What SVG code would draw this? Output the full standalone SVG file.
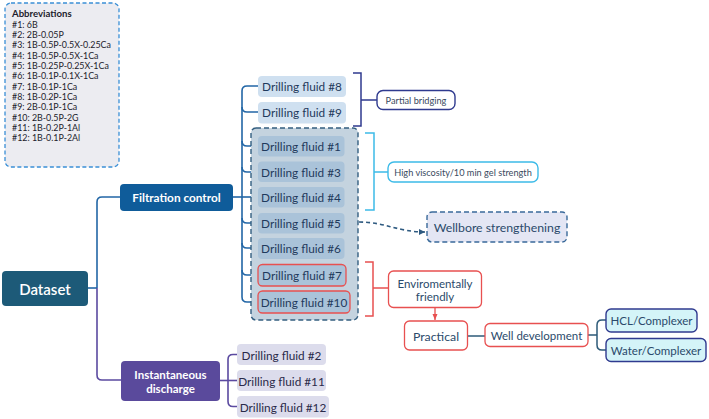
<svg xmlns="http://www.w3.org/2000/svg" width="709" height="419" viewBox="0 0 709 419">
<defs>
<marker id="arrDash" markerWidth="8" markerHeight="8" refX="6" refY="4" orient="auto" markerUnits="userSpaceOnUse">
<path d="M0,1 L6,4 L0,7 Z" fill="#2e5a80"/>
</marker>
<marker id="arrRed" markerWidth="8" markerHeight="8" refX="6" refY="4" orient="auto" markerUnits="userSpaceOnUse">
<path d="M0,1.5 L6,4 L0,6.5 Z" fill="#e85050"/>
</marker>
</defs>
<style>
text{font-family:"Lato","Noto Sans",sans-serif;}
.abbr{font-size:8.9px;fill:#1c1c2c;}
.df{font-size:11.8px;fill:#1f3a5c;text-anchor:middle;dominant-baseline:central;}
.dfp{font-size:11.8px;fill:#2a2a4a;text-anchor:middle;dominant-baseline:central;}
.wt{fill:#fff;text-anchor:middle;dominant-baseline:central;font-weight:bold;}
.lbl{font-size:9.2px;fill:#3a4a60;text-anchor:middle;dominant-baseline:central;}
.rt{font-size:11.5px;fill:#2b4a6b;text-anchor:middle;dominant-baseline:central;}
.n89{fill:#cfe0f0;}
.nin{fill:#aac3d9;}
.npur{fill:#dcdcec;}
.redb{stroke:#e85050;stroke-width:1.3;}
.c{fill:none;stroke-width:1.6;}
.blue{stroke:#2266a6;}
.pur{stroke:#5b4aa0;}
</style>

<g id="abbreviations">
<rect x="5" y="3" width="114" height="164" rx="6" fill="#ececf1" stroke="#3a8fd6" stroke-width="1.3" stroke-dasharray="4,2.5"/>
<text x="12" y="17" style="font-size:9.6px;font-weight:bold;fill:#1c1c2c">Abbreviations</text>
<text class="abbr" x="12" y="27.5">#1: 6B</text>
<text class="abbr" x="12" y="37.9">#2: 2B-0.05P</text>
<text class="abbr" x="12" y="48.2">#3: 1B-0.5P-0.5X-0.25Ca</text>
<text class="abbr" x="12" y="58.6">#4: 1B-0.5P-0.5X-1Ca</text>
<text class="abbr" x="12" y="68.9">#5: 1B-0.25P-0.25X-1Ca</text>
<text class="abbr" x="12" y="79.3">#6: 1B-0.1P-0.1X-1Ca</text>
<text class="abbr" x="12" y="89.6">#7: 1B-0.1P-1Ca</text>
<text class="abbr" x="12" y="100">#8: 1B-0.2P-1Ca</text>
<text class="abbr" x="12" y="110.4">#9: 2B-0.1P-1Ca</text>
<text class="abbr" x="12" y="120.7">#10: 2B-0.5P-2G</text>
<text class="abbr" x="12" y="131.1">#11: 1B-0.2P-1Al</text>
<text class="abbr" x="12" y="141.4">#12: 1B-0.1P-2Al</text>
</g>

<g id="connectors">
<path class="c blue" d="M88,288 H97"/>
<path class="c blue" d="M97,288 V202 Q97,197 102,197 H120"/>
<path class="c pur" d="M97,288 V375 Q97,380 102,380 H121"/>
<path class="c blue" d="M233,197 H258"/>
<path class="c blue" d="M258,86 H247 Q242,86 242,91 V297 Q242,302 247,302 H258"/>
<path class="c blue" d="M242,107 Q242,112 247,112 H258"/>
<path class="c blue" d="M242,141 Q242,146 247,146 H258"/>
<path class="c blue" d="M242,167 Q242,172 247,172 H258"/>
<path class="c blue" d="M242,218 Q242,223 247,223 H258"/>
<path class="c blue" d="M242,243 Q242,248 247,248 H258"/>
<path class="c blue" d="M242,270 Q242,275 247,275 H258"/>
<path class="c pur" d="M220,380.5 H237"/>
<path class="c pur" d="M237,354.5 H233 Q228,354.5 228,359.5 V401.5 Q228,406.5 233,406.5 H237"/>
<path fill="none" stroke="#2f3a8f" stroke-width="1.5" d="M353,73 H361 V126 H353 M361,100 H377"/>
<path fill="none" stroke="#3cbbe8" stroke-width="1.5" d="M365,133 H374 V210 H365 M374,172 H388"/>
<path fill="none" stroke="#e85050" stroke-width="1.5" d="M365,262 H373 V316 H365 M373,288 H388"/>
<path fill="none" stroke="#2e5a80" stroke-width="1.6" stroke-dasharray="4,3" d="M359,222 C385,222 398,232 425,232" marker-end="url(#arrDash)"/>
<path fill="none" stroke="#e85050" stroke-width="1.3" d="M435,307.5 V320" marker-end="url(#arrRed)"/>
<path fill="none" stroke="#2d5a78" stroke-width="1.5" d="M467,336 H485"/>
<path fill="none" stroke="#2d5a78" stroke-width="1.5" d="M588,335 H597 M606,320 H602 Q597,320 597,325 V345 Q597,350 602,350 H606"/>
</g>

<g id="dataset">
<rect x="2" y="271" width="86" height="35" rx="4" fill="#1d5a78"/>
<text class="wt" x="45" y="289" style="font-size:15px;font-weight:600">Dataset</text>
</g>
<g id="filtration-control">
<rect x="120" y="184" width="113" height="27" rx="4" fill="#0f5c9a"/>
<text class="wt" x="176.5" y="197.5" style="font-size:11.8px">Filtration control</text>
</g>
<g id="instantaneous-discharge">
<rect x="121" y="361" width="99" height="40" rx="4" fill="#5a4a9c"/>
<text class="wt" x="170.5" y="374" style="font-size:11.5px">Instantaneous</text>
<text class="wt" x="170.5" y="388" style="font-size:11.5px">discharge</text>
</g>

<g id="df8"><rect class="n89" x="258" y="76" width="88" height="21" rx="4"/><text class="df" x="302" y="86.5">Drilling fluid #8</text></g>
<g id="df9"><rect class="n89" x="258" y="102" width="88" height="21.5" rx="4"/><text class="df" x="302" y="112.5">Drilling fluid #9</text></g>

<g id="group-box">
<rect x="251" y="128" width="107" height="192" rx="5" fill="#c4d3df" stroke="#345f80" stroke-width="1.4" stroke-dasharray="5,3"/>
</g>
<g id="df1"><rect class="nin" x="258" y="136" width="86.5" height="20.5" rx="4"/><text class="df" x="301" y="146.5">Drilling fluid #1</text></g>
<g id="df3"><rect class="nin" x="258" y="161.5" width="86.5" height="20.5" rx="4"/><text class="df" x="301" y="172">Drilling fluid #3</text></g>
<g id="df4"><rect class="nin" x="258" y="187" width="86.5" height="20.5" rx="4"/><text class="df" x="301" y="197.5">Drilling fluid #4</text></g>
<g id="df5"><rect class="nin" x="258" y="213" width="86.5" height="20.5" rx="4"/><text class="df" x="301" y="223.5">Drilling fluid #5</text></g>
<g id="df6"><rect class="nin" x="258" y="238" width="86.5" height="21" rx="4"/><text class="df" x="301" y="248.5">Drilling fluid #6</text></g>
<g id="df7"><rect class="nin redb" x="258" y="264.5" width="88" height="21.5" rx="4.5"/><text class="df" x="302" y="275.5">Drilling fluid #7</text></g>
<g id="df10"><rect class="nin redb" x="258" y="291" width="92" height="22" rx="4.5"/><text class="df" x="304" y="302.5">Drilling fluid #10</text></g>

<g id="df2"><rect class="npur" x="237" y="344" width="89" height="21" rx="4"/><text class="dfp" x="281.5" y="355">Drilling fluid #2</text></g>
<g id="df11"><rect class="npur" x="237" y="370" width="89" height="21" rx="4"/><text class="dfp" x="281.5" y="381">Drilling fluid #11</text></g>
<g id="df12"><rect class="npur" x="237" y="396" width="92" height="21.5" rx="4"/><text class="dfp" x="283" y="407">Drilling fluid #12</text></g>

<g id="partial-bridging">
<rect x="377" y="90.5" width="78" height="19" rx="6" fill="#fff" stroke="#2f3a8f" stroke-width="1.4"/>
<text class="lbl" x="416" y="100.5">Partial bridging</text>
</g>
<g id="high-viscosity">
<rect x="388" y="162" width="150" height="20" rx="6" fill="#fff" stroke="#3cbbe8" stroke-width="1.4"/>
<text class="lbl" x="463" y="172.5">High viscosity/10 min gel strength</text>
</g>
<g id="wellbore-strengthening">
<rect x="427" y="212" width="140" height="30" rx="5" fill="#e4e6f4" stroke="#3a6a9a" stroke-width="1.4" stroke-dasharray="5,3"/>
<text class="rt" x="497" y="227.5" style="font-size:12.3px">Wellbore strengthening</text>
</g>
<g id="enviromentally-friendly">
<rect x="388.5" y="271" width="93" height="36.5" rx="5" fill="#fff" stroke="#e85050" stroke-width="1.3"/>
<text class="rt" x="435" y="283.5">Enviromentally</text>
<text class="rt" x="435" y="296.5">friendly</text>
</g>
<g id="practical">
<rect x="404.5" y="321" width="63" height="29" rx="5" fill="#fff" stroke="#e85050" stroke-width="1.3"/>
<text class="rt" x="436" y="336" style="font-size:12.3px">Practical</text>
</g>
<g id="well-development">
<rect x="485" y="323.5" width="103" height="23" rx="5" fill="#fff" stroke="#e85050" stroke-width="1.3"/>
<text class="rt" x="536.5" y="335.5">Well development</text>
</g>
<g id="hcl-complexer">
<rect x="606" y="309" width="91" height="23" rx="5" fill="#d4f4f8" stroke="#2f3a8f" stroke-width="1.4"/>
<text class="rt" x="651.5" y="320.5">HCL/Complexer</text>
</g>
<g id="water-complexer">
<rect x="606" y="338.5" width="100" height="23" rx="5" fill="#d4f4f8" stroke="#2f3a8f" stroke-width="1.4"/>
<text class="rt" x="656" y="350">Water/Complexer</text>
</g>
</svg>
